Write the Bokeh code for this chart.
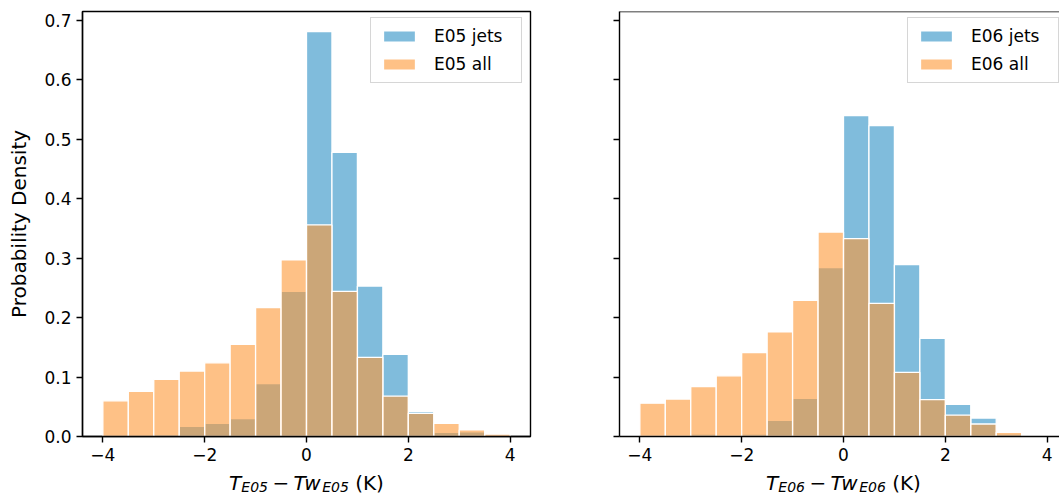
from bokeh.plotting import figure
from bokeh.models import FixedTicker, Legend, LegendItem, Span, Range1d
from bokeh.layouts import row, column
from bokeh.embed import file_html
from bokeh.resources import INLINE
from bokeh.core.properties import value

# ---------------- data ----------------
bin_edges = [-4.0, -3.5, -3.0, -2.5, -2.0, -1.5, -1.0, -0.5, 0.0,
             0.5, 1.0, 1.5, 2.0, 2.5, 3.0, 3.5, 4.0]
e05_jets = [0.0, 0.0, 0.003, 0.017, 0.022, 0.030, 0.089, 0.244,
            0.681, 0.478, 0.253, 0.138, 0.042, 0.007, 0.008, 0.0]
e05_all = [0.060, 0.076, 0.096, 0.110, 0.124, 0.155, 0.217, 0.297,
           0.356, 0.244, 0.133, 0.068, 0.039, 0.022, 0.011, 0.004]
e06_jets = [0.0, 0.0, 0.004, 0.0, 0.004, 0.027, 0.064, 0.284,
            0.540, 0.523, 0.289, 0.165, 0.054, 0.031, 0.004, 0.0]
e06_all = [0.056, 0.063, 0.084, 0.102, 0.141, 0.176, 0.229, 0.344,
           0.333, 0.224, 0.108, 0.062, 0.036, 0.021, 0.007, 0.002]

x_ticks = [-4, -2, 0, 2, 4]
x_tick_labels = ["\u22124", "\u22122", "0", "2", "4"]
y_ticks = [0.0, 0.1, 0.2, 0.3, 0.4, 0.5, 0.6, 0.7]
y_tick_labels = ["0.0", "0.1", "0.2", "0.3", "0.4", "0.5", "0.6", "0.7"]
codes = ["E05", "E06"]

FONT = "DejaVu Sans"
FS = 17      # ticks / legend
FL = 20      # axis labels
SUB = 14     # subscripts
BLUE = "#0179b9"
BLUE_ALPHA = 0.5
ORANGE = "#fd9835"
ORANGE_ALPHA = 0.6


def make_fig(jets, alls, code, left_b, right_b, frame_w, x_end, show_ylab):
    p = figure(frame_width=frame_w, frame_height=425,
               x_range=Range1d(-4.4, x_end), y_range=Range1d(0, 0.715),
               output_backend="svg", toolbar_location=None,
               min_border_left=left_b, min_border_right=right_b,
               min_border_top=11, min_border_bottom=36)
    p.grid.visible = False
    p.background_fill_color = "white"
    p.border_fill_color = "white"

    lefts = bin_edges[:-1]
    rights = bin_edges[1:]
    r1 = p.quad(left=lefts, right=rights, bottom=0, top=jets,
                fill_color=BLUE, fill_alpha=BLUE_ALPHA, line_color="white",
                line_width=1.3)
    r2 = p.quad(left=lefts, right=rights, bottom=0, top=alls,
                fill_color=ORANGE, fill_alpha=ORANGE_ALPHA, line_color="white",
                line_width=1.3)

    for ax in (p.xaxis[0], p.yaxis[0]):
        ax.axis_line_width = 1.4
        ax.axis_line_color = "black"
        ax.major_tick_line_width = 1.4
        ax.major_tick_line_color = "black"
        ax.major_tick_in = 0
        ax.major_tick_out = 6
        ax.minor_tick_line_color = None
        ax.major_label_text_font = FONT
        ax.major_label_text_font_size = f"{FS}px"
        ax.major_label_text_color = "black"
        ax.major_label_standoff = 5

    p.xaxis.ticker = FixedTicker(ticks=x_ticks)
    p.xaxis.major_label_overrides = dict(zip(x_ticks, x_tick_labels))
    p.yaxis.ticker = FixedTicker(ticks=y_ticks)
    if show_ylab:
        p.yaxis.major_label_overrides = dict(zip(y_ticks, y_tick_labels))
        p.yaxis.axis_label = "Probability Density"
        p.yaxis.axis_label_text_font = FONT
        p.yaxis.axis_label_text_font_size = f"{FL}px"
        p.yaxis.axis_label_text_font_style = "normal"
        p.yaxis.axis_label_text_color = "black"
        p.yaxis.axis_label_standoff = 10
        p.outline_line_color = "black"
        p.outline_line_width = 1.4
        p.outline_line_alpha = 1.0
    else:
        p.yaxis.major_label_overrides = {t: "" for t in y_ticks}
        p.outline_line_color = None
        p.add_layout(Span(location=0.715, dimension="width",
                          line_color="black", line_width=1.4))

    legend = Legend(items=[LegendItem(label=f"{code} jets", renderers=[r1]),
                           LegendItem(label=f"{code} all", renderers=[r2])],
                    location=(288, 353), label_text_font=FONT,
                    label_text_font_size=f"{FS}px", label_text_color="black",
                    glyph_width=40, glyph_height=14, label_standoff=15,
                    label_width=79, label_height=20, spacing=8, padding=8,
                    border_line_color="#cccccc", border_line_alpha=0.8,
                    border_line_width=1.2, background_fill_alpha=0.8,
                    margin=0)
    p.add_layout(legend)
    return p


def add_xlabel(strip, cx, code):
    # mathtext-like label: T_code − Tw_code (K), centred at cx
    pieces = []
    x = 0.0
    pieces.append(("T", x, FL, "italic", 0)); x += 0.611 * FL
    pieces.append((code, x, SUB, "italic", -4)); x += 1.904 * SUB
    x += 0.222 * FL
    pieces.append(("\u2212", x, FL, "normal", 0)); x += 0.838 * FL
    x += 0.222 * FL
    pieces.append(("Tw", x, FL, "italic", 0)); x += (0.611 + 0.818) * FL
    pieces.append((code, x, SUB, "italic", -4)); x += 1.904 * SUB
    x += 0.318 * FL
    pieces.append(("(K)", x, FL, "normal", 0)); x += 1.436 * FL
    total = x
    base = 16
    for txt, off, size, style, dy in pieces:
        strip.text(x=[cx - total / 2 + off], y=[base + dy], text=[txt],
                   text_font=value(FONT), text_font_size=f"{size}px",
                   text_font_style=style, text_baseline="alphabetic",
                   text_align="left", text_color="black")


p1 = make_fig(e05_jets, e05_all, codes[0], 82, 45, 448, 4.4, True)
p2 = make_fig(e06_jets, e06_all, codes[1], 44, 0, 440,
              -4.4 + 440 / (448 / 8.8), False)

strip = figure(width=1059, height=26, x_range=Range1d(0, 1059),
               y_range=Range1d(0, 26), output_backend="svg",
               toolbar_location=None, x_axis_location=None,
               y_axis_location=None, min_border=0)
strip.grid.visible = False
strip.outline_line_color = None
add_xlabel(strip, 82 + 224, codes[0])
add_xlabel(strip, 619 + 224, codes[1])

layout = column(row(p1, p2), strip)
open("out.html", "w").write(file_html(layout, INLINE))
